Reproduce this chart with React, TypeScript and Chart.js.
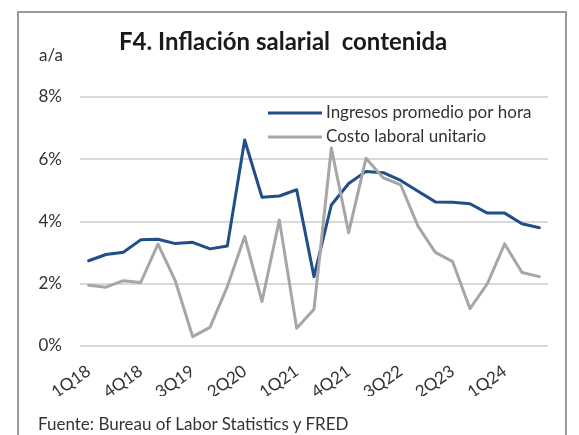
import React, { useEffect, useRef } from "react";
import { Chart, registerables } from "chart.js";

Chart.register(...registerables);

const quarters = [
  "1Q18", "2Q18", "3Q18", "4Q18",
  "1Q19", "2Q19", "3Q19", "4Q19",
  "1Q20", "2Q20", "3Q20", "4Q20",
  "1Q21", "2Q21", "3Q21", "4Q21",
  "1Q22", "2Q22", "3Q22", "4Q22",
  "1Q23", "2Q23", "3Q23", "4Q23",
  "1Q24", "2Q24", "3Q24",
];

const ingresosPromedioPorHora = [
  2.74, 2.94, 3.01, 3.41,
  3.43, 3.29, 3.33, 3.12,
  3.21, 6.62, 4.78, 4.82,
  5.02, 2.23, 4.53, 5.22,
  5.61, 5.57, 5.32, 4.97,
  4.63, 4.62, 4.57, 4.27,
  4.27, 3.93, 3.80,
];

const costoLaboralUnitario = [
  1.95, 1.89, 2.10, 2.04,
  3.27, 2.09, 0.30, 0.60,
  1.91, 3.52, 1.43, 4.05,
  0.57, 1.18, 6.36, 3.64,
  6.03, 5.40, 5.18, 3.85,
  3.01, 2.71, 1.20, 2.00,
  3.28, 2.36, 2.23,
];

const yTicks = [0, 2, 4, 6, 8];
const labelEvery = 3;

const seriesNames = ["Ingresos promedio por hora", "Costo laboral unitario"];
const seriesColors = ["#1F4E88", "#A6A6A6"];

const FONT = "Lato, 'Open Sans', sans-serif";
const TEXT_COLOR = "#333333";

const legendPlugin = {
  id: "customLegend",
  afterDraw(chart: any) {
    const ctx = chart.ctx;
    const items = [
      { name: seriesNames[0], color: seriesColors[0], y: 113 },
      { name: seriesNames[1], color: seriesColors[1], y: 137 },
    ];
    ctx.save();
    items.forEach((it) => {
      ctx.strokeStyle = it.color;
      ctx.lineWidth = 3;
      ctx.lineCap = "butt";
      ctx.beginPath();
      ctx.moveTo(268, it.y);
      ctx.lineTo(322, it.y);
      ctx.stroke();
      ctx.fillStyle = TEXT_COLOR;
      ctx.font = `17px ${FONT}`;
      ctx.textAlign = "left";
      ctx.textBaseline = "middle";
      ctx.fillText(it.name, 326, it.y);
    });
    ctx.restore();
  },
};

export default function App() {
  const canvasRef = useRef<HTMLCanvasElement | null>(null);

  useEffect(() => {
    const canvas = canvasRef.current;
    if (!canvas) return;
    const chart = new Chart(canvas, {
      type: "line",
      data: {
        labels: quarters,
        datasets: [
          {
            label: seriesNames[0],
            data: ingresosPromedioPorHora,
            borderColor: seriesColors[0],
            backgroundColor: seriesColors[0],
            borderWidth: 3,
            pointRadius: 0,
            tension: 0,
            borderJoinStyle: "round",
            borderCapStyle: "round",
            order: 1,
          },
          {
            label: seriesNames[1],
            data: costoLaboralUnitario,
            borderColor: seriesColors[1],
            backgroundColor: seriesColors[1],
            borderWidth: 3,
            pointRadius: 0,
            tension: 0,
            borderJoinStyle: "round",
            borderCapStyle: "round",
            order: 0,
          },
        ],
      },
      options: {
        animation: false,
        responsive: false,
        devicePixelRatio: 1,
        layout: { padding: { left: 20, right: 31, top: 97, bottom: 39 } },
        plugins: {
          legend: { display: false },
          tooltip: { enabled: false },
          title: { display: false },
        },
        scales: {
          x: {
            type: "category",
            offset: true,
            grid: { display: false, drawTicks: false },
            border: { display: false },
            ticks: {
              autoSkip: false,
              minRotation: 35,
              maxRotation: 35,
              padding: 15,
              color: TEXT_COLOR,
              font: { family: FONT, size: 17 },
              callback: (_v: any, i: number) => (i % labelEvery === 0 ? quarters[i] : ""),
            },
            afterFit: (s: any) => {
              s.height = 50;
            },
          },
          y: {
            min: yTicks[0],
            max: yTicks[yTicks.length - 1],
            afterBuildTicks: (s: any) => {
              s.ticks = yTicks.map((v) => ({ value: v }));
            },
            grid: { color: "#D9D9D9", lineWidth: 2, drawTicks: false },
            border: { display: false },
            ticks: {
              padding: 18,
              color: TEXT_COLOR,
              font: { family: FONT, size: 17 },
              callback: (v: any) => `${v}%`,
            },
            afterFit: (s: any) => {
              s.width = 60;
            },
          },
        },
      },
      plugins: [legendPlugin],
    });
    return () => chart.destroy();
  }, []);

  return (
    <div style={{ position: "absolute", left: 0, top: 0, width: 579, height: 435, overflow: "hidden", background: "#fff" }}>
      <div
        style={{
          position: "absolute",
          left: 17,
          top: 11,
          width: 550,
          height: 440,
          boxSizing: "border-box",
          border: "2px solid #9A9A9A",
          borderBottom: "none",
        }}
      />
      <canvas ref={canvasRef} width={579} height={435} style={{ position: "absolute", left: 0, top: 0, width: 579, height: 435 }} />
      <div
        style={{
          position: "absolute",
          left: 119,
          top: 29,
          fontFamily: FONT,
          fontWeight: 700,
          fontSize: 24,
          lineHeight: "24px",
          color: "#1A1A1A",
          whiteSpace: "pre",
        }}
      >
        {"F4. Inflación salarial  contenida"}
      </div>
      <div
        style={{
          position: "absolute",
          left: 39,
          top: 46,
          fontFamily: FONT,
          fontSize: 17,
          lineHeight: "17px",
          color: TEXT_COLOR,
          whiteSpace: "pre",
        }}
      >
        a/a
      </div>
      <div
        style={{
          position: "absolute",
          left: 38,
          top: 415,
          fontFamily: FONT,
          fontSize: 17,
          lineHeight: "17px",
          color: TEXT_COLOR,
          whiteSpace: "pre",
        }}
      >
        Fuente: Bureau of Labor Statistics y FRED
      </div>
    </div>
  );
}
